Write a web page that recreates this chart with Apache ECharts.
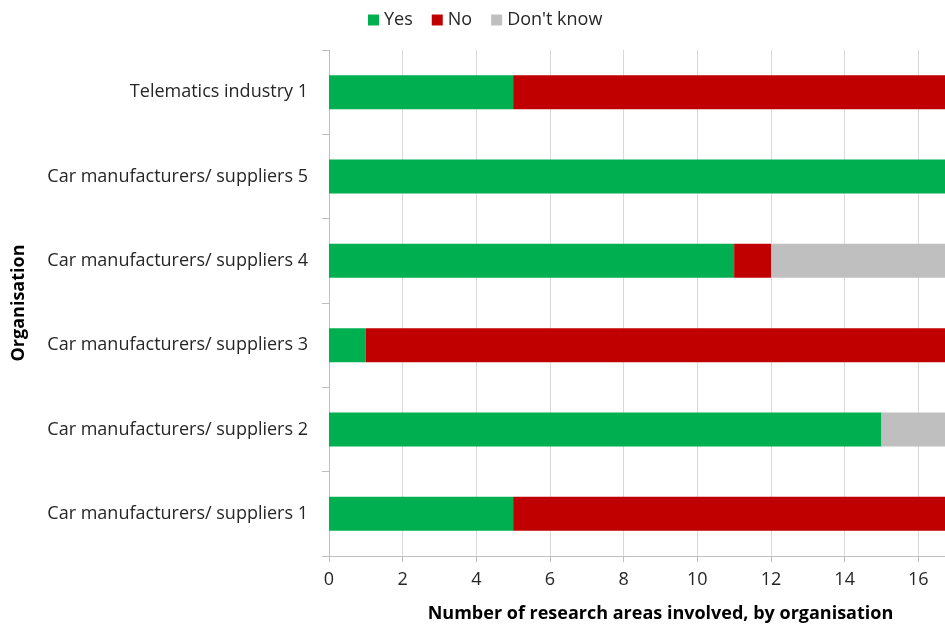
<!DOCTYPE html>
<html>
<head>
<meta charset="utf-8">
<script src="https://cdn.jsdelivr.net/npm/echarts@6/dist/echarts.min.js"></script>
<style>
  html, body { margin: 0; padding: 0; background: #fff; overflow: hidden; }
  #chart { width: 945px; height: 625px; }
</style>
</head>
<body>
<div id="chart"></div>
<script>
// Organisations, bottom to top on the category axis
const organisations = [
  'Car manufacturers/ suppliers 1',
  'Car manufacturers/ suppliers 2',
  'Car manufacturers/ suppliers 3',
  'Car manufacturers/ suppliers 4',
  'Car manufacturers/ suppliers 5',
  'Telematics industry 1'
];
// Number of research areas per answer
const yesValues = [5, 15, 1, 11, 18, 5];
const noValues = [13, 0, 17, 1, 0, 13];
const dontKnowValues = [0, 3, 0, 6, 0, 0];
const seriesNames = ['Yes', 'No', "Don't know"];
const xMax = 18;

const FONT = '"Open Sans", sans-serif';
const colors = ['#00b050', '#c00000', '#bfbfbf'];

const chart = echarts.init(document.getElementById('chart'), null, { renderer: 'canvas' });

const barSeries = [yesValues, noValues, dontKnowValues].map((vals, i) => ({
  name: seriesNames[i],
  type: 'bar',
  stack: 'total',
  barWidth: 34,
  data: vals,
  itemStyle: { color: colors[i] },
  emphasis: { disabled: true }
}));

chart.setOption({
  animation: false,
  textStyle: { fontFamily: FONT },
  legend: {
    top: 6,
    left: 363,
    itemWidth: 11,
    itemHeight: 11,
    itemGap: 19,
    icon: 'rect',
    textStyle: { fontFamily: FONT, fontSize: 18, color: '#262626' },
    data: seriesNames
  },
  grid: {
    left: 329,
    top: 50,
    bottom: 69,
    right: -47,
    outerBoundsMode: 'none',
    containLabel: false
  },
  xAxis: {
    type: 'value',
    min: 0,
    max: xMax,
    interval: 2,
    name: 'Number of research areas involved, by organisation',
    nameLocation: 'middle',
    nameGap: 49,
    nameTextStyle: { fontFamily: FONT, fontSize: 18, fontWeight: 'bold', color: '#000' },
    axisLine: { show: true, lineStyle: { color: '#bfbfbf', width: 1 } },
    axisTick: { show: true, length: 6, lineStyle: { color: '#bfbfbf' } },
    axisLabel: { fontFamily: FONT, fontSize: 18, color: '#262626', margin: 15 },
    splitLine: { show: true, lineStyle: { color: '#d9d9d9', width: 1 } }
  },
  yAxis: {
    type: 'category',
    data: organisations,
    name: 'Organisation',
    nameLocation: 'middle',
    nameGap: 301,
    nameRotate: 90,
    nameTextStyle: { fontFamily: FONT, fontSize: 18, fontWeight: 'bold', color: '#000' },
    axisLine: { show: true, lineStyle: { color: '#bfbfbf', width: 1 } },
    axisTick: { show: true, length: 7, lineStyle: { color: '#bfbfbf' } },
    axisLabel: { fontFamily: FONT, fontSize: 18, color: '#262626', margin: 21 }
  },
  series: barSeries
});
</script>
</body>
</html>
